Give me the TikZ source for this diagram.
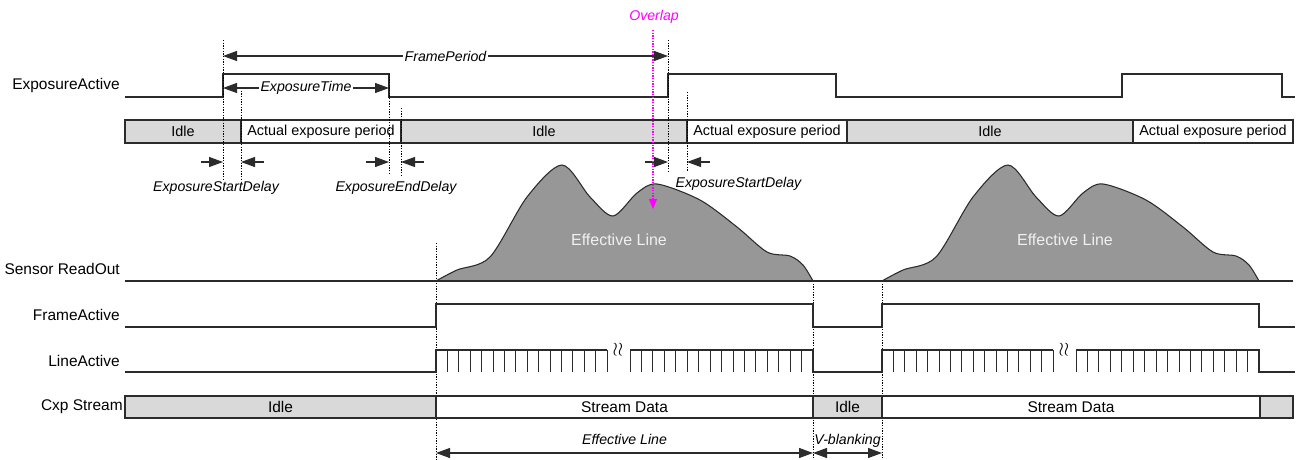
\documentclass[tikz,border=0pt]{standalone}
\usepackage{fontspec}
\setmainfont{Liberation Sans}
\usetikzlibrary{arrows.meta}
\definecolor{idlegray}{HTML}{D9D9D9}
\definecolor{humpgray}{HTML}{979797}
\definecolor{wire}{HTML}{2B2B2B}
\definecolor{ovlcolor}{RGB}{255,0,255}
\tikzset{
    >={Triangle[length=10.5pt, width=7.5pt]}, % big filled arrow heads
    every node/.style={font=\fontsize{11.6}{13}\selectfont}, % size of most texts
    signal/.style={draw=wire, line width=0.8pt}, % the waveforms
    guide/.style={draw=black, line width=0.6pt, dash pattern=on 1pt off 1pt}, % dotted time marks
    tlabel/.style={font=\fontsize{10.6}{12}\selectfont\itshape, inner sep=1pt}, % italic timing labels
    rowlabel/.style={anchor=east, inner sep=0pt}, % signal names on the left
    idlebox/.style={draw=wire, line width=0.8pt, fill=idlegray, inner sep=0pt}, % grey state box
    busybox/.style={idlebox, fill=white}, % white state box
    overlap/.style={draw=ovlcolor, line width=0.8pt, dash pattern=on 1pt off 1pt,
        -{Triangle[length=7.5pt, width=6pt]}, ovlcolor}, % the magenta pointer
}

\begin{document}
\begin{tikzpicture}[x=0.75pt, y=-0.75pt]
\useasboundingbox (0,0) rectangle (1300,460);

% signal names
\node[rowlabel] (nexp)  at (120,86)  {ExposureActive};
\node[rowlabel] (nsens) at (120,269) {Sensor ReadOut};
\node[rowlabel] (nfa)   at (120,315) {FrameActive};
\node[rowlabel] (nla)   at (120,361) {LineActive};
\node[rowlabel] (ncxp)  at (123,407) {Cxp Stream};

% ExposureActive
\draw[signal] (125,97) -- (223,97) -- (223,74) -- (389,74) -- (389,97) -- (668,97) -- (668,74)
    -- (836,74) -- (836,97) -- (1122,97) -- (1122,74) -- (1282,74) -- (1282,97) -- (1295,97);

% exposure states
\foreach \a/\b/\t/\s [count=\i] in {125/241/Idle/idlebox, 241/401/Actual exposure period/busybox,
    401/687/Idle/idlebox, 687/847/Actual exposure period/busybox,
    847/1133/Idle/idlebox, 1133/1293/Actual exposure period/busybox}
  \node[\s, minimum width={(\b-\a)*0.75pt}, minimum height=17.25pt, font=\fontsize{10.8}{12}\selectfont]
    (st\i) at ({(\a+\b)/2},131.5) {\t};

% time marks
\draw[guide] (223,40) -- (223,180);
\draw[guide] (241,88) -- (241,180);
\draw[guide] (389,74) -- (389,175);
\draw[guide] (401,108) -- (401,175);
\draw[guide] (668,40) -- (668,172);
\draw[guide] (687,92) -- (687,172);
\draw[guide] (436,243) -- (436,460);
\draw[guide] (813,281) -- (813,460);
\draw[guide] (882,281) -- (882,460);

% periods
\coordinate (fp1) at (223,56);  \coordinate (fp2) at (668,56);
\coordinate (et1) at (223,88);  \coordinate (et2) at (389,88);
\draw[signal, <->] (fp1) -- node[tlabel, fill=white] (fp) {FramePeriod} (fp2);
\draw[signal, <->] (et1) -- node[tlabel, fill=white] (et) {ExposureTime} (et2);

% delays
\coordinate (d1) at (201,162); \coordinate (d2) at (223,162);
\coordinate (d3) at (264,162); \coordinate (d4) at (241,162);
\coordinate (d5) at (366,162); \coordinate (d6) at (389,162);
\coordinate (d7) at (424,162); \coordinate (d8) at (401,162);
\coordinate (d9) at (645,162); \coordinate (d10) at (668,162);
\coordinate (d11) at (710,162); \coordinate (d12) at (687,162);
\foreach \p/\q in {d1/d2, d3/d4, d5/d6, d7/d8, d9/d10, d11/d12}
  \draw[signal, ->] (\p) -- (\q);
\node[tlabel] (esd1) at (216,188) {ExposureStartDelay};
\node[tlabel] (eed)  at (396,188) {ExposureEndDelay};
\node[tlabel, anchor=west] (esd2) at (674,184) {ExposureStartDelay};

% sensor read out, FrameActive, LineActive
\foreach \dx/\n in {0/1, 446/2} {
  \begin{scope}[shift={(\dx,0)}]
    \filldraw[signal, fill=humpgray] plot[smooth, tension=0.5] coordinates {(436,281) (457,270)
      (490,257) (527,197) (562,165) (590,197) (613,216) (637,193) (657,184) (700,200)
      (737,227) (767,252) (790,256) (803,265) (813,281)} -- cycle;
    \node[text=white!94!black, font=\fontsize{12}{14}\selectfont] (eff\n) at (619,240) {Effective Line};
    \foreach \k in {1,...,15}
      \draw[signal, line width=0.65pt] (436+\k*11.4,350) -- ++(0,22);
    \foreach \k in {0,...,15}
      \draw[signal, line width=0.65pt] (630+\k*11.44,350) -- ++(0,22);
    \node[inner sep=0pt, font=\Large] (gap\n) at (618,350) {$\wr\wr$};
  \end{scope}
}
\draw[signal] (125,281) -- (1293,281);
\draw[signal] (125,327) -- (436,327) -- (436,304) -- (813,304) -- (813,327) -- (882,327)
    -- (882,304) -- (1259,304) -- (1259,327) -- (1295,327);
\draw[signal] (125,372) -- (436,372) -- (436,350) -- (607,350);
\draw[signal] (630,350) -- (813,350) -- (813,372) -- (882,372) -- (882,350) -- (1053,350);
\draw[signal] (1076,350) -- (1259,350) -- (1259,372) -- (1295,372);

% Cxp stream states
\foreach \a/\b/\t/\s [count=\i] in {125/436/Idle/idlebox, 436/813/Stream Data/busybox,
    813/882/Idle/idlebox, 882/1260/Stream Data/busybox, 1260/1293//idlebox}
  \node[\s, minimum width={(\b-\a)*0.75pt}, minimum height=16.5pt] (cx\i) at ({(\a+\b)/2},407) {\t};

% line and blanking times
\coordinate (el1) at (436,453); \coordinate (el2) at (813,453); \coordinate (el3) at (882,453);
\draw[signal, <->] (el1) -- node[tlabel, above=5pt] (efl) {Effective Line} (el2);
\draw[signal, <->] (el2) -- node[tlabel, above=5pt, text depth=0pt] (vb) {V-blanking} (el3);

% overlap
\node[tlabel, text=ovlcolor] (ov) at (654,17) {Overlap};
\coordinate (ovtop) at (653,30); \coordinate (ovtip) at (653,209);
\draw[overlap] (ovtop) -- (ovtip);
\end{tikzpicture}
\end{document}
